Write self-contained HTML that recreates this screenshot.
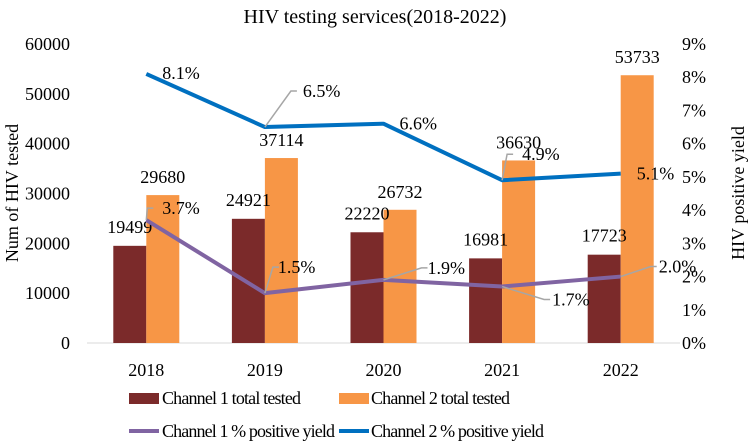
<!DOCTYPE html>
<html><head><meta charset="utf-8"><style>
body{margin:0;background:#fff}
svg text{font-family:"Liberation Serif",serif;fill:#000}
</style></head><body>
<svg id="c" width="750" height="441" xmlns="http://www.w3.org/2000/svg">
<text x="375" y="23" font-size="20" text-anchor="middle">HIV testing services(2018-2022)</text>
<text transform="translate(18,193) rotate(-90)" font-size="18" text-anchor="middle">Num of HIV tested</text>
<text transform="translate(744,193) rotate(-90)" font-size="18" text-anchor="middle">HIV positive yield</text>
<g id="g"></g>
<g>
<rect x="129" y="393" width="30" height="11" fill="#7b2a2a"/>
<text x="162" y="404" font-size="18" textLength="139">Channel 1 total tested</text>
<rect x="339" y="393" width="30" height="11" fill="#f79646"/>
<text x="371" y="404" font-size="18" textLength="139">Channel 2 total tested</text>
<line x1="129" y1="431" x2="159" y2="431" stroke="#8064a2" stroke-width="4"/>
<text x="162" y="437" font-size="18" textLength="173">Channel 1 % positive yield</text>
<line x1="339" y1="431" x2="369" y2="431" stroke="#0070c0" stroke-width="4"/>
<text x="371" y="437" font-size="18" textLength="173">Channel 2 % positive yield</text>
</g>
</svg>
<script>
const categories=["2018","2019","2020","2021","2022"];
const ch1Tested=[19499,24921,22220,16981,17723];
const ch2Tested=[29680,37114,26732,36630,53733];
const ch1Yield=[3.7,1.5,1.9,1.7,2.0];
const ch2Yield=[8.1,6.5,6.6,4.9,5.1];
const leftTicks=[0,10000,20000,30000,40000,50000,60000];
const rightTicks=[0,1,2,3,4,5,6,7,8,9];
const NS="http://www.w3.org/2000/svg";
const g=document.getElementById('g');
const x0=87,x1=680,yb=343,yt=44,bw=33;
const band=(x1-x0)/categories.length;
const xc=i=>x0+band*(i+0.5);
const yL=v=>yb-(v/60000)*(yb-yt);
const yR=v=>yb-(v/9)*(yb-yt);
function mk(t,a){const e=document.createElementNS(NS,t);for(const k in a)e.setAttribute(k,a[k]);g.appendChild(e);return e;}
leftTicks.forEach(v=>{const t=mk('text',{x:x0-17,y:yL(v)+6,'font-size':18,'text-anchor':'end'});t.textContent=v;

});
rightTicks.forEach(v=>{const t=mk('text',{x:x1+2,y:yR(v)+6,'font-size':18});t.textContent=v+'%';

});
const ax=mk('line',{x1:x0,y1:yb,x2:x1,y2:yb,stroke:'#d9d9d9','stroke-width':1});


categories.forEach((c,i)=>{
const t=mk('text',{x:xc(i),y:yb+33,'font-size':18,'text-anchor':'middle'});t.textContent=c;


const b1=mk('rect',{x:xc(i)-bw,y:yL(ch1Tested[i]),width:bw,height:yb-yL(ch1Tested[i]),fill:'#7b2a2a'});


const b2=mk('rect',{x:xc(i),y:yL(ch2Tested[i]),width:bw,height:yb-yL(ch2Tested[i]),fill:'#f79646'});


const l1=mk('text',{x:xc(i)-bw/2,y:yL(ch1Tested[i])-13,'font-size':18,'text-anchor':'middle'});l1.textContent=ch1Tested[i];


const l2=mk('text',{x:xc(i)+bw/2,y:yL(ch2Tested[i])-12,'font-size':18,'text-anchor':'middle'});l2.textContent=ch2Tested[i];


});
function line(vals,col,name,offs){
const p=mk('polyline',{points:vals.map((v,i)=>xc(i)+','+yR(v)).join(' '),fill:'none',stroke:col,'stroke-width':4,'stroke-linejoin':'round'});


vals.forEach((v,i)=>{const o=offs[i];
if(o[2]!==null){const ll=mk('polyline',{points:`${xc(i)},${yR(v)} ${xc(i)+o[2]},${yR(v)+o[3]} ${xc(i)+o[2]+6},${yR(v)+o[3]}`,fill:'none',stroke:'#a6a6a6','stroke-width':1.5});

}
const t=mk('text',{x:xc(i)+o[0],y:yR(v)+o[1],'font-size':18});t.textContent=v.toFixed(1)+'%';

});
}
line(ch1Yield,'#8064a2','line-ch1-yield',[[16,-6,1,-12],[13,-20,8,-26],[44,-6,38,-12],[50,19,42,13],[38,-4,30,-10]]);
line(ch2Yield,'#0070c0','line-ch2-yield',[[16,5,null,0],[38,-30,26,-36],[16,6,null,0],[20,-20,5,-26],[16,6,null,0]]);
</script>
</body></html>
